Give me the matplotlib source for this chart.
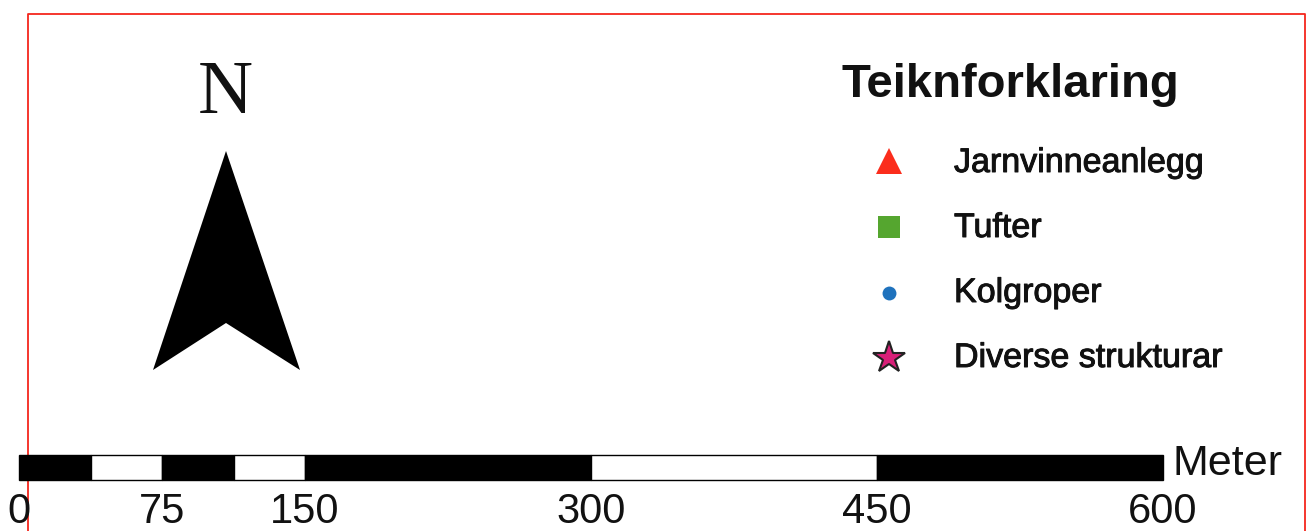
import matplotlib
matplotlib.use("Agg")
import matplotlib.pyplot as plt
import matplotlib.patheffects as pe
from matplotlib.patches import Rectangle, Polygon

# Scale bar, in metres
scale_edges = [0, 37.5, 75, 112.5, 150, 300, 450, 600]
scale_colors = ["black", "white", "black", "white", "black", "white", "black"]
scale_ticks = [0, 75, 150, 300, 450, 600]
scale_unit = "Meter"

# Legend
legend_title = "Teiknforklaring"
legend_labels = ["Jarnvinneanlegg", "Tufter", "Kolgroper", "Diverse strukturar"]
legend_markers = ["^", "s", "o", "*"]
legend_colors = ["#fb2d1c", "#55a62f", "#1f72bd", "#d81f78"]
legend_sizes = [19, 15.5, 10, 24]

W, H = 1307, 531
plt.rcParams["font.family"] = ["Liberation Sans", "DejaVu Sans"]

fig = plt.figure(figsize=(W / 100, H / 100), dpi=100, facecolor="white")

# page axes in pixel units, y pointing down
ax = fig.add_axes([0, 0, 1, 1])
ax.set_xlim(0, W)
ax.set_ylim(H, 0)
ax.axis("off")

# red neatline, open at the bottom
ax.plot([27.5, 27.5, 1305, 1305], [531, 13.5, 13.5, 531], color="#f4261c", lw=1.3, zorder=1)

# north arrow
ax.add_patch(Polygon([(226, 151), (300, 370), (226, 323), (153, 370)], closed=True,
                     facecolor="black", edgecolor="none", zorder=2))
ax.text(225, 113, "N", fontsize=55, family="Liberation Serif", ha="center", va="baseline", color="#111111")

# legend
ax.text(841, 97, legend_title, fontsize=34, fontweight="bold", ha="left", va="baseline", color="#111111")
legend_y = [161, 226.5, 292.5, 358]
text_y = [172, 237, 302, 367]
stroke = [pe.withStroke(linewidth=0.7, foreground="#111111")]
for i in range(len(legend_labels)):
    is_star = legend_markers[i] == "*"
    ax.plot(888.5, legend_y[i], marker=legend_markers[i], ms=legend_sizes[i],
            color=legend_colors[i], mec="#222222" if is_star else legend_colors[i],
            mew=1.5 if is_star else 0, ls="none", zorder=3)
    ax.text(954, text_y[i], legend_labels[i], fontsize=24.5, ha="left", va="baseline",
            color="#111111", path_effects=stroke)

# scale bar gets its own axes in metres
left, right = 19, 1163
top, bottom = 455, 479.5
sax = fig.add_axes([left / W, 1 - bottom / H, (right - left) / W, (bottom - top) / H])
sax.set_xlim(scale_edges[0], scale_edges[-1])
sax.set_ylim(0, 1)
sax.patch.set_alpha(0)
for s in sax.spines.values():
    s.set_visible(False)
sax.set_yticks([])
for i in range(len(scale_colors)):
    sax.add_patch(Rectangle((scale_edges[i], 0), scale_edges[i + 1] - scale_edges[i], 1,
                            facecolor=scale_colors[i], edgecolor="black", lw=1, clip_on=False))
sax.set_xticks(scale_ticks)
sax.set_xticklabels([str(t) for t in scale_ticks], fontsize=30, color="#111111")
sax.tick_params(axis="x", length=0, pad=9)
ax.text(right + 9, 464, scale_unit, fontsize=31, color="#111111", ha="left", va="center")

fig.savefig("out.png", dpi=100)
